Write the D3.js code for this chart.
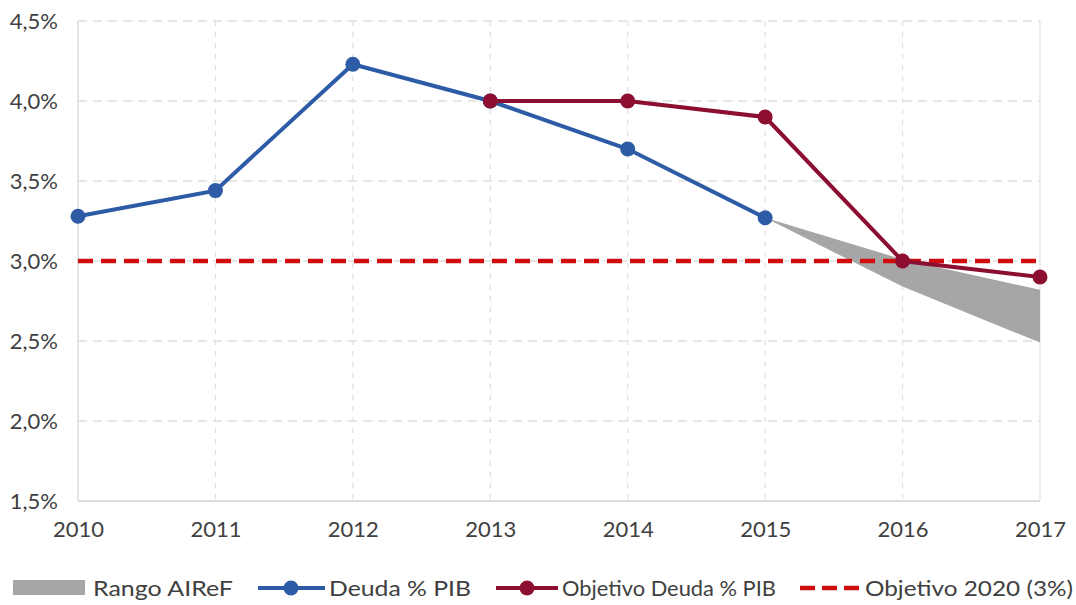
<!DOCTYPE html>
<html>
<head>
<meta charset="utf-8">
<script src="https://cdn.jsdelivr.net/npm/d3@7"></script>
<style>
  body { margin: 0; background: #fff; }
  text { font-family: Lato, "Open Sans", sans-serif; fill: #404040; }
</style>
</head>
<body>
<div id="chart"></div>
<script>
//********************* DATA ************************************

var years = [2010, 2011, 2012, 2013, 2014, 2015, 2016, 2017];
var deuda = [3.28, 3.44, 4.23, 4.0, 3.70, 3.27];            // 2010-2015
var objetivoYears = [2013, 2014, 2015, 2016, 2017];
var objetivo = [4.0, 4.0, 3.9, 3.0, 2.9];
var rangoYears = [2015, 2016, 2017];
var rangoLow = [3.27, 2.84, 2.49];
var rangoHigh = [3.27, 3.01, 2.82];
var objetivo2020 = 3.0;
var yTicks = [1.5, 2.0, 2.5, 3.0, 3.5, 4.0, 4.5];
var legendLabels = ["Rango AIReF", "Deuda % PIB", "Objetivo Deuda % PIB", "Objetivo 2020 (3%)"];

//********************* DIMENSIONS ************************************

var W = 1076, H = 605;
var margin = {top: 21, right: 36, bottom: 104, left: 78},
    width = W - margin.left - margin.right,
    height = H - margin.top - margin.bottom;

var blue = "#2d5ba6", wine = "#8c0f32", red = "#d00c0c", grey = "#a6a6a6";

var svg = d3.select("#chart").append("svg")
    .attr("width", W)
    .attr("height", H);

var g = svg.append("g")
    .attr("transform", "translate(" + margin.left + "," + margin.top + ")");

var x = d3.scaleLinear().domain([2010, 2017]).range([0, width]);
var y = d3.scaleLinear().domain([1.5, 4.5]).range([height, 0]);

//********************* GRID ************************************

g.selectAll(".hgrid")
    .data(yTicks.slice(1))
    .enter().append("line")
    .attr("x1", 0).attr("x2", width)
    .attr("y1", function(d) { return y(d); })
    .attr("y2", function(d) { return y(d); })
    .attr("stroke", "#dedede")
    .attr("stroke-width", 1.5)
    .attr("stroke-dasharray", "9,6");

g.selectAll(".vgrid")
    .data(years.slice(1, -1))
    .enter().append("line")
    .attr("y1", 0).attr("y2", height)
    .attr("x1", function(d) { return x(d); })
    .attr("x2", function(d) { return x(d); })
    .attr("stroke", "#e0e0e0")
    .attr("stroke-width", 1.2)
    .attr("stroke-dasharray", "5,6");

// frame lines
g.append("line").attr("x1", 0).attr("x2", 0).attr("y1", 0).attr("y2", height)
    .attr("stroke", "#dcdcdc").attr("stroke-width", 1.5);
g.append("line").attr("x1", width).attr("x2", width).attr("y1", 0).attr("y2", height)
    .attr("stroke", "#e6e6e6").attr("stroke-width", 1.5);
g.append("line").attr("x1", 0).attr("x2", width).attr("y1", height).attr("y2", height)
    .attr("stroke", "#d0d0d0").attr("stroke-width", 1.5);

//********************* AXES ************************************

var yAxis = g.append("g")
    .call(d3.axisLeft(y).tickValues(yTicks).tickSize(0).tickPadding(20)
      .tickFormat(function(d) { return d3.format(".1f")(d).replace(".", ",") + "%"; }));
yAxis.select(".domain").remove();
yAxis.selectAll("text").attr("font-size", 22).attr("fill", "#444")
    .style("font-family", "Lato, sans-serif");

var xAxis = g.append("g")
    .attr("transform", "translate(0," + height + ")")
    .call(d3.axisBottom(x).tickValues(years).tickSize(0).tickPadding(20).tickFormat(d3.format("d")));
xAxis.select(".domain").remove();
xAxis.selectAll("text").attr("font-size", 22).attr("fill", "#444")
    .style("font-family", "Lato, sans-serif");

//********************* SERIES ************************************

var rango = rangoYears.map(function(d, i) { return {a: d, lo: rangoLow[i], hi: rangoHigh[i]}; });
g.append("path")
    .datum(rango)
    .attr("fill", grey)
    .attr("d", d3.area()
      .x(function(d) { return x(d.a); })
      .y0(function(d) { return y(d.lo); })
      .y1(function(d) { return y(d.hi); }));

g.append("line")
    .attr("x1", 0).attr("x2", width)
    .attr("y1", y(objetivo2020)).attr("y2", y(objetivo2020))
    .attr("stroke", red)
    .attr("stroke-width", 4.5)
    .attr("stroke-dasharray", "15,8");

var deudaData = deuda.map(function(v, i) { return {a: years[i], v: v}; });
var objData = objetivo.map(function(v, i) { return {a: objetivoYears[i], v: v}; });

var line = d3.line()
    .x(function(d) { return x(d.a); })
    .y(function(d) { return y(d.v); });

function drawSeries(data, color) {
  g.append("path")
      .datum(data)
      .attr("fill", "none")
      .attr("stroke", color)
      .attr("stroke-width", 4)
      .attr("d", line);
  g.selectAll(null)
      .data(data)
      .enter().append("circle")
      .attr("cx", function(d) { return x(d.a); })
      .attr("cy", function(d) { return y(d.v); })
      .attr("r", 7.5)
      .attr("fill", color);
}

drawSeries(deudaData, blue);
drawSeries(objData, wine);

//********************* LEGEND ************************************

var ly = 588;
var legend = svg.append("g");

function legendText(xPos, label, len) {
  legend.append("text").attr("x", xPos).attr("y", ly + 8).attr("font-size", 22)
      .attr("textLength", len).attr("lengthAdjust", "spacingAndGlyphs").text(label);
}

legend.append("rect").attr("x", 13).attr("y", ly - 8).attr("width", 72).attr("height", 15).attr("fill", grey);
legendText(93, legendLabels[0], 140);

legend.append("line").attr("x1", 258).attr("x2", 325).attr("y1", ly).attr("y2", ly)
    .attr("stroke", blue).attr("stroke-width", 4);
legend.append("circle").attr("cx", 291).attr("cy", ly).attr("r", 7.5).attr("fill", blue);
legendText(329, legendLabels[1], 142);

legend.append("line").attr("x1", 496).attr("x2", 558).attr("y1", ly).attr("y2", ly)
    .attr("stroke", wine).attr("stroke-width", 4);
legend.append("circle").attr("cx", 527).attr("cy", ly).attr("r", 7.5).attr("fill", wine);
legendText(562, legendLabels[2], 214);

legend.append("line").attr("x1", 800).attr("x2", 860).attr("y1", ly).attr("y2", ly)
    .attr("stroke", red).attr("stroke-width", 4.5).attr("stroke-dasharray", "15,7");
legendText(865, legendLabels[3], 208);
</script>
</body>
</html>
